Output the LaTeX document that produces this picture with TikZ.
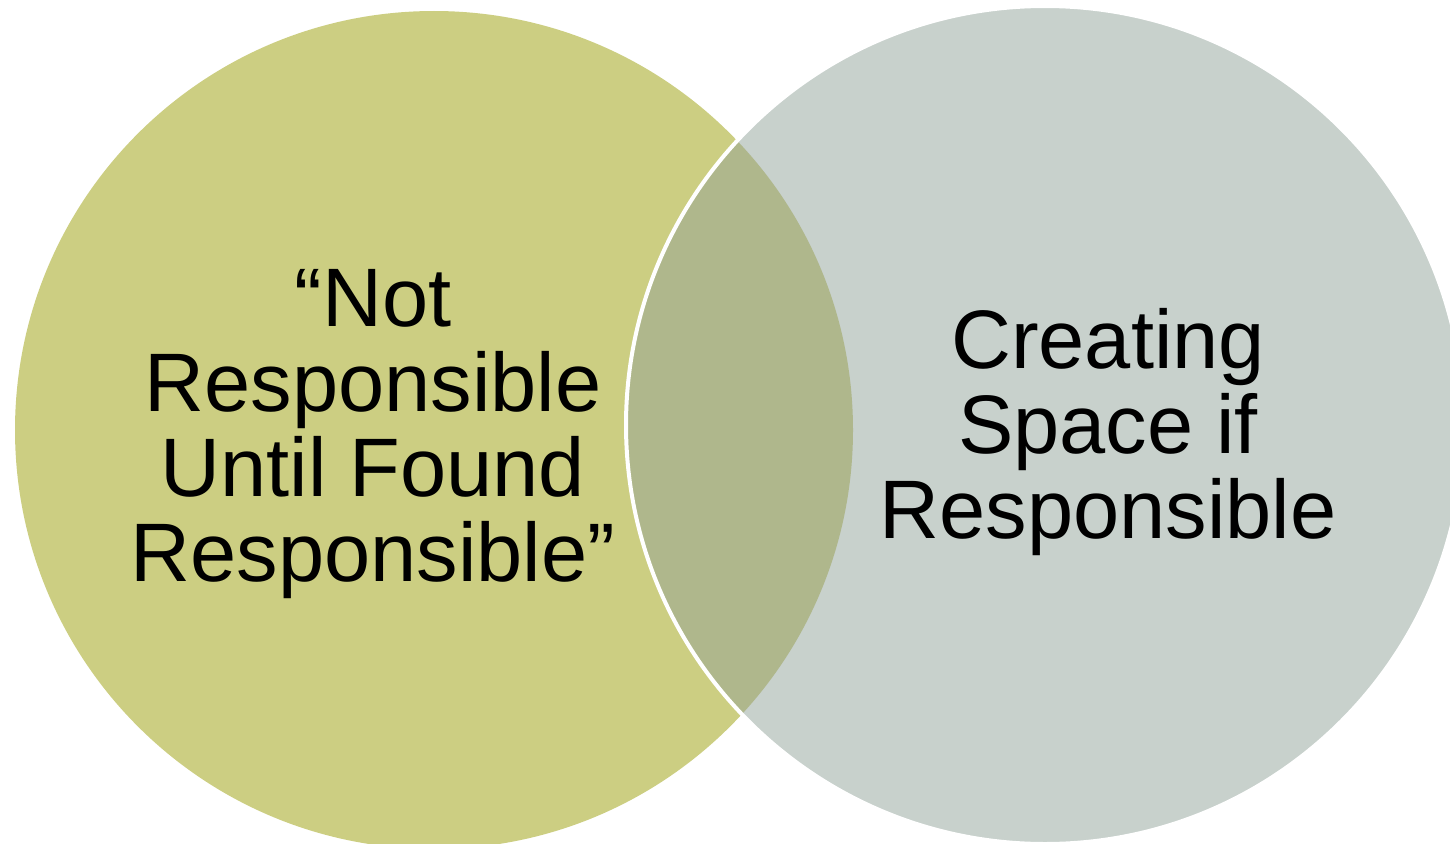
\documentclass[tikz,border=0pt]{standalone}
\usepackage{fontspec}
\setmainfont{Liberation Sans}
\definecolor{leftgreen}{RGB}{204,206,130}
\definecolor{rightgrey}{RGB}{200,209,204}
\definecolor{overlapgreen}{RGB}{175,183,140}
\tikzset{
  vennlabel/.style={font=\fontsize{83}{85}\selectfont,align=center,inner sep=0pt}
}
\begin{document}
\begin{tikzpicture}[x=1pt,y=-1pt]
  \useasboundingbox (0,0) rectangle (1450,843);

  % Circles
  \fill[leftgreen] (434,430) circle (419pt);
  \fill[rightgrey] (1045,425) circle (419pt);
  \begin{scope}
    \clip (434,430) circle (419pt);
    \fill[overlapgreen] (1045,425) circle (419pt);
  \end{scope}
  \draw[white,line width=4pt] (1045,425) circle (419pt);

  % Labels
  \node[vennlabel] (notresp) at (373,434) {“Not\\Responsible\\Until Found\\Responsible”};
  \node[vennlabel] (creating) at (1108,432) {Creating\\Space if\\Responsible};
\end{tikzpicture}
\end{document}
